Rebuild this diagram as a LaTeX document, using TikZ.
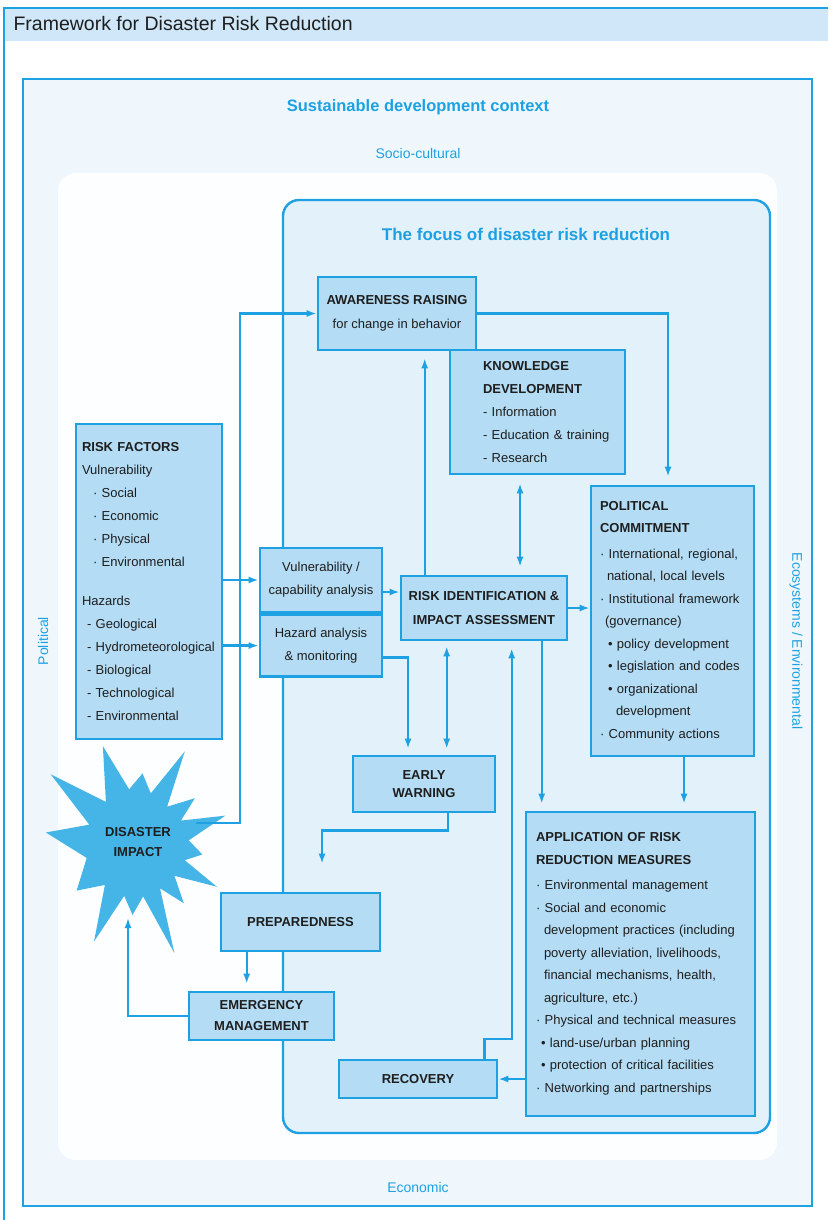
\documentclass[tikz,border=0pt]{standalone}
\usepackage{fontspec}
\setmainfont{Liberation Sans}
\usetikzlibrary{arrows.meta,positioning}

\definecolor{drrblue}{HTML}{1DA1E2}
\definecolor{boxfill}{HTML}{B4DCF4}
\definecolor{focusfill}{HTML}{E3F1FB}
\definecolor{outerfill}{HTML}{EFF7FD}
\definecolor{innerfill}{HTML}{FDFEFF}
\definecolor{headfill}{HTML}{CFE7F8}
\definecolor{burstfill}{HTML}{44B5E6}
\definecolor{inkdark}{HTML}{1E1E1E}

\tikzset{
  box/.style={draw=drrblue, line width=2.6pt, fill=boxfill, text=inkdark, align=center,
    inner sep=0pt, font=\fontsize{13}{23}\selectfont},
  capsbox/.style={box, font=\bfseries\fontsize{13}{21}\selectfont},
  listbox/.style={box, align=left},
  ctxtext/.style={text=drrblue, font=\fontsize{14}{17}\selectfont},
  link/.style={drrblue, line width=2.4pt, -{Latex[length=10pt,width=7pt]}},
  twoway/.style={link, {Latex[length=10pt,width=7pt]}-{Latex[length=10pt,width=7pt]}},
}

\begin{document}
\begin{tikzpicture}[x=1pt, y=-1pt]
\useasboundingbox (0,0) rectangle (828,1222);

% page heading
\fill[headfill] (4,8) rectangle (828,41);
\draw[drrblue, line width=2pt] (4,1220) -- (4,8) -- (828,8);
\node[anchor=west, text=inkdark, font=\fontsize{19.5}{22}\selectfont] (heading) at (10,24) {Framework for Disaster Risk Reduction};

% sustainable development context
\node[draw=drrblue, line width=2.4pt, fill=outerfill, minimum width=789pt, minimum height=1127pt] (sdframe) at (417.5,642.5) {};
\node[fill=innerfill, rounded corners=18pt, minimum width=719pt, minimum height=987pt] (inner) at (417.5,666.5) {};
\node[ctxtext, font=\bfseries\fontsize{16.5}{20}\selectfont] (sdtitle) at (418,107) {Sustainable development context};
\node[ctxtext] (socio) at (418,153) {Socio-cultural};
\node[ctxtext] (econ) at (418,1187) {Economic};
\node[ctxtext, rotate=90] (politic) at (43,641) {Political};
\node[ctxtext, rotate=-90] (ecosys) at (796,641) {Ecosystems / Environmental};

% focus of disaster risk reduction
\node[draw=drrblue, line width=2.4pt, fill=focusfill, rounded corners=16pt, minimum width=487pt, minimum height=933pt] (focus) at (526.5,666.5) {};
\node[ctxtext, font=\bfseries\fontsize{17}{20}\selectfont] (focustitle) at (526,234) {The focus of disaster risk reduction};

% boxes
\node[listbox, text width=134pt, inner xsep=6pt, minimum height=315pt] (riskfac) at (149,581.5) {%
  \textbf{RISK FACTORS}\\
  Vulnerability\\
  \hspace*{11pt}·~Social\\
  \hspace*{11pt}·~Economic\\
  \hspace*{11pt}·~Physical\\
  \hspace*{11pt}·~Environmental\\[16pt]
  Hazards\\
  \hspace*{5pt}-~Geological\\
  \hspace*{5pt}-~Hydrometeorological\\
  \hspace*{5pt}-~Biological\\
  \hspace*{5pt}-~Technological\\
  \hspace*{5pt}-~Environmental};
\node[box, minimum width=122pt, minimum height=64pt] (vulcap) at (321,580) {Vulnerability /\\capability analysis};
\node[box, minimum width=122pt, minimum height=62pt, below=0pt of vulcap] (hazan) {Hazard analysis\\\& monitoring};
\node[box, minimum width=158pt, minimum height=73pt, font=\fontsize{13}{24}\selectfont] (aware) at (397,313.5) {\textbf{AWARENESS RAISING}\\for change in behavior};
\node[listbox, text width=175pt, minimum height=124pt] (know) at (537.5,412) {%
  \hspace*{33pt}\textbf{KNOWLEDGE}\\
  \hspace*{33pt}\textbf{DEVELOPMENT}\\
  \hspace*{33pt}-~Information\\
  \hspace*{33pt}-~Education \& training\\
  \hspace*{33pt}-~Research};
\node[capsbox, minimum width=166pt, minimum height=64pt, font=\bfseries\fontsize{13}{24}\selectfont] (riskid) at (484,608) {RISK IDENTIFICATION \&\\IMPACT ASSESSMENT};
\node[listbox, text width=145pt, inner xsep=9pt, minimum height=270pt, font=\fontsize{13}{22.5}\selectfont] (polcom) at (672.5,621) {%
  \textbf{POLITICAL}\\
  \textbf{COMMITMENT}\\[3pt]
  ·~International, regional,\\
  \hspace*{7pt}national, local levels\\
  ·~Institutional framework\\
  \hspace*{5pt}(governance)\\
  \hspace*{8pt}•~policy development\\
  \hspace*{8pt}•~legislation and codes\\
  \hspace*{8pt}•~organizational\\
  \hspace*{16pt}development\\
  ·~Community actions};
\node[capsbox, minimum width=142pt, minimum height=56pt, font=\bfseries\fontsize{13}{18}\selectfont] (early) at (424,784) {EARLY\\WARNING};
\node[listbox, text width=209pt, inner xsep=10pt, minimum height=304pt, font=\fontsize{13}{22.5}\selectfont] (apply) at (640.5,964) {%
  \textbf{APPLICATION OF RISK}\\
  \textbf{REDUCTION MEASURES}\\[3pt]
  ·~Environmental management\\
  ·~Social and economic\\
  \hspace*{8pt}development practices (including\\
  \hspace*{8pt}poverty alleviation, livelihoods,\\
  \hspace*{8pt}financial mechanisms, health,\\
  \hspace*{8pt}agriculture, etc.)\\
  ·~Physical and technical measures\\
  \hspace*{5pt}•~land-use/urban planning\\
  \hspace*{5pt}•~protection of critical facilities\\
  ·~Networking and partnerships};
\node[capsbox, minimum width=159pt, minimum height=58pt] (prep) at (300.5,922) {PREPAREDNESS};
\node[capsbox, minimum width=145pt, minimum height=48pt] (emerg) at (261.5,1016) {EMERGENCY\\MANAGEMENT};
\node[capsbox, minimum width=158pt, minimum height=38pt] (recov) at (418,1079) {RECOVERY};

% disaster impact burst
\begin{scope}[shift={(135,845)}, y=1pt]
  \fill[burstfill] (172:90) -- (156:50) -- (140:110) -- (124:52) -- (108:104) -- (96:56)
    -- (84:72) -- (73:54) -- (62:106) -- (50:50) -- (38:76) -- (28:52) -- (18:95)
    -- (5:54) -- (-8:68) -- (-17:52) -- (-27:92) -- (-38:50) -- (-50:76) -- (-60:50)
    -- (-70:115) -- (-81:52) -- (-92:70) -- (-102:52) -- (-113:105) -- (-127:50)
    -- (-142:74) -- (-165:50) -- cycle;
\end{scope}
\coordinate (burst-e) at (196,823);
\coordinate (burst-s) at (128,918);

% connectors
\draw[link] (vulcap.west -| riskfac.east) -- (vulcap.west);
\draw[link] (hazan.west -| riskfac.east) -- (hazan.west);
\draw[link] ([yshift=-12pt]vulcap.east) -- ([yshift=-12pt]vulcap.east -| riskid.west);
\draw[link] (riskid.east) -- (riskid.east -| polcom.west);
\draw[link, shorten >=7pt] ([xshift=25pt]riskid.north west) -- ([xshift=25pt]riskid.north west |- aware.south);
\draw[twoway, shorten <=8pt, shorten >=8pt] ([xshift=-17.5pt]know.south) -- ([xshift=-17.5pt]know.south |- riskid.north);
\draw[twoway, shorten <=5pt, shorten >=6pt] ([xshift=47pt]riskid.south west) -- ([xshift=47pt]riskid.south west |- early.north);
\draw[link, shorten >=6pt] ([yshift=-12pt]hazan.east) -| ([xshift=-16pt]early.north);
\draw[link, shorten >=7pt] ([xshift=142pt]riskid.south west) -- ([xshift=142pt]riskid.south west |- apply.north);
\draw[link, shorten >=7pt] ([xshift=11.5pt]polcom.south) -- ([xshift=11.5pt]polcom.south |- apply.north);
\draw[link, shorten >=8pt] (aware.east) -| ([xshift=-4.5pt]polcom.north);
\draw[link, shorten >=7pt] ([xshift=-14pt]recov.north east) -- ++(0,-20) -| ([xshift=112pt]riskid.south west);
\draw[link] (apply.west |- recov.east) -- (recov.east);
\draw[link, shorten >=28pt] ([xshift=24pt]early.south) -- ++(0,17) -| ([xshift=21.5pt]prep.north);
\draw[link, shorten >=7pt] ([xshift=27pt]prep.south west) -- ([xshift=27pt]prep.south west |- emerg.north);
\draw[link] (emerg.west) -| (burst-s);
\draw[link] (burst-e) -- ++(44,0) |- (aware.west);

\node[align=center, text=inkdark, font=\bfseries\fontsize{13}{20}\selectfont] (burst) at (138,842) {DISASTER\\IMPACT};
\end{tikzpicture}
\end{document}
